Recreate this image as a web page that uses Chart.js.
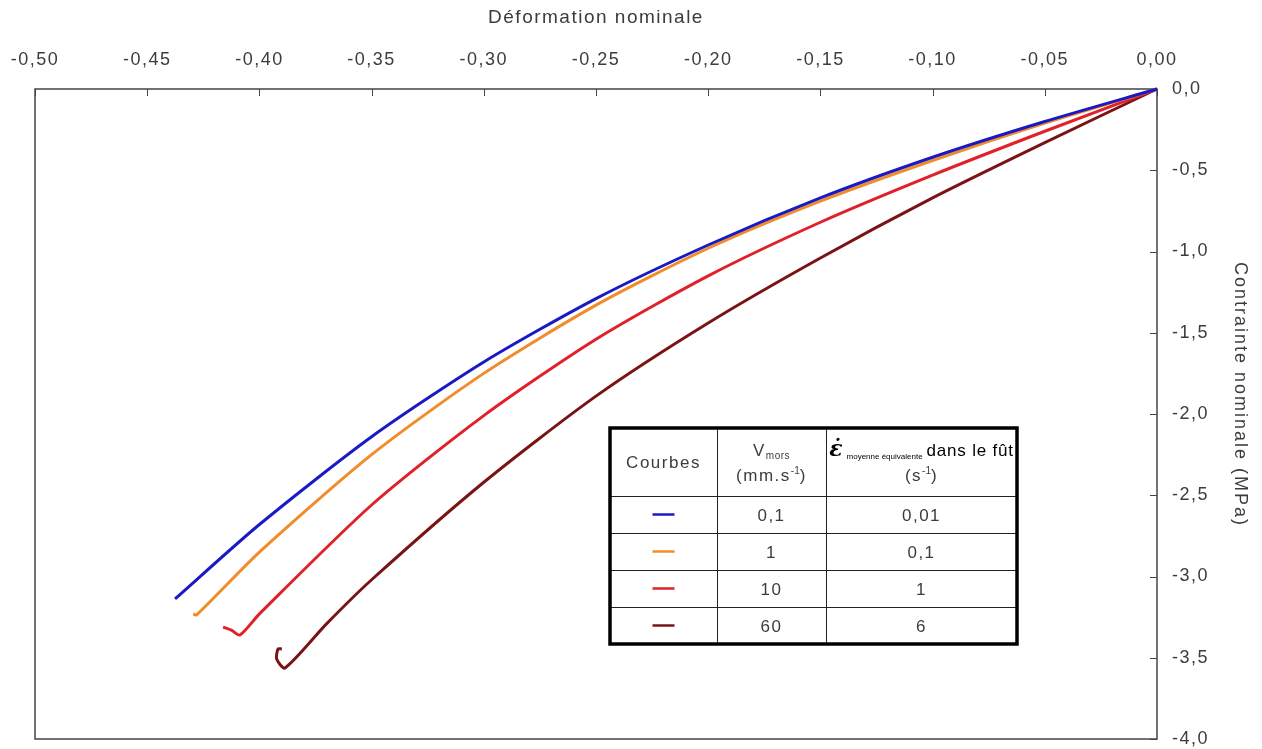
<!DOCTYPE html>
<html lang="fr">
<head>
<meta charset="utf-8">
<title>Contrainte nominale - Déformation nominale</title>
<script src="https://cdn.jsdelivr.net/npm/chart.js@4.4.1/dist/chart.umd.min.js"></script>
<style>
  html, body { margin: 0; padding: 0; background: #fff; }
  #wrap { position: relative; width: 1262px; height: 749px; }
</style>
</head>
<body>
<div id="wrap"><canvas id="chart"></canvas></div>
<script>
// Déformation nominale (x) / Contrainte nominale en MPa (y), une paire par vitesse de mors
const defV01 = [0, -0.05, -0.10, -0.15, -0.20, -0.25, -0.30, -0.35, -0.40, -0.4376];
const contV01 = [0, -0.20, -0.42, -0.67, -0.96, -1.29, -1.68, -2.14, -2.68, -3.138];

const defV1 = [0, -0.05, -0.10, -0.15, -0.20, -0.25, -0.30, -0.35, -0.40, -0.428, -0.4295];
const contV1 = [0, -0.21, -0.44, -0.69, -0.98, -1.33, -1.75, -2.25, -2.85, -3.237, -3.23];

const defV10 = [0, -0.05, -0.10, -0.15, -0.20, -0.25, -0.30, -0.35, -0.40, -0.4087, -0.4125, -0.4162];
const contV10 = [0, -0.26, -0.53, -0.82, -1.15, -1.54, -2.01, -2.56, -3.23, -3.36, -3.33, -3.311];

const defV60 = [0, -0.05, -0.10, -0.15, -0.20, -0.25, -0.30, -0.35, -0.37, -0.3886, -0.3923, -0.3917, -0.39];
const contV60 = [0, -0.33, -0.67, -1.04, -1.44, -1.89, -2.42, -3.02, -3.29, -3.563, -3.508, -3.446, -3.446];

// tableau de légende
const vmors = ['0,1', '1', '10', '60'];
const vitesses = ['0,01', '0,1', '1', '6'];
const couleurs = ['#1a1ac4', '#f08c2a', '#e0202a', '#7a1414'];

const TEXT = '#3c3c3c';
const FONT = '"Liberation Sans", Arial, sans-serif';
const LS = '1.5px';

const toPoints = (xs, ys) => xs.map((x, i) => ({ x, y: ys[i] }));

const serie = (label, xs, ys, color) => ({
  label,
  data: toPoints(xs, ys),
  borderColor: color,
  backgroundColor: color,
  borderWidth: 3,
  pointRadius: 0,
  showLine: true,
  tension: 0.25,
  clip: false,
});

const spacing = {
  id: 'spacing',
  beforeLayout(chart) { chart.ctx.letterSpacing = LS; },
  beforeDraw(chart) { chart.ctx.letterSpacing = LS; },
};

// cadre complet + petites graduations intérieures (façon Excel)
const cadre = {
  id: 'cadre',
  beforeDatasetsDraw(chart) {
    const { ctx, chartArea: { left, top, right, bottom }, scales: { x, y } } = chart;
    ctx.save();
    ctx.strokeStyle = '#444';
    ctx.lineWidth = 1.5;
    ctx.strokeRect(left, top, right - left, bottom - top);
    ctx.lineWidth = 1;
    ctx.beginPath();
    x.ticks.forEach((t) => {
      const px = Math.round(x.getPixelForValue(t.value)) + 0.5;
      ctx.moveTo(px, top);
      ctx.lineTo(px, top + 7);
    });
    y.ticks.forEach((t) => {
      const py = Math.round(y.getPixelForValue(t.value)) + 0.5;
      ctx.moveTo(right, py);
      ctx.lineTo(right - 7, py);
    });
    ctx.stroke();
    ctx.restore();
  },
};

// titre de l'axe vertical, lu de haut en bas
const titreY = {
  id: 'titreY',
  afterDraw(chart) {
    const { ctx, chartArea: { top, bottom } } = chart;
    ctx.save();
    ctx.translate(1240, top + (bottom - top) * 0.47);
    ctx.rotate(Math.PI / 2);
    ctx.font = `18px ${FONT}`;
    ctx.letterSpacing = '2px';
    ctx.fillStyle = TEXT;
    ctx.textAlign = 'center';
    ctx.textBaseline = 'middle';
    ctx.fillText('Contrainte nominale (MPa)', 0, 0);
    ctx.restore();
  },
};

// écrit une suite de morceaux (normal / indice / exposant) centrée sur cx
const runs = (ctx, parts, cx, y) => {
  let w = 0;
  parts.forEach((p) => {
    ctx.font = p.font;
    ctx.letterSpacing = p.ls || LS;
    p.w = ctx.measureText(p.text).width + (p.gap || 0);
    w += p.w;
  });
  let px = cx - w / 2;
  parts.forEach((p) => {
    ctx.font = p.font;
    ctx.letterSpacing = p.ls || LS;
    ctx.fillText(p.text, px, y + (p.dy || 0));
    px += p.w;
  });
};

const tableau = {
  id: 'tableau',
  afterDraw(chart) {
    const { ctx } = chart;
    const x0 = 610, y0 = 428;
    const cols = [107, 109, 191];
    const headH = 68, rowH = 37;
    const w = cols[0] + cols[1] + cols[2];
    const h = headH + rowH * vmors.length;
    const c1 = x0 + cols[0], c2 = c1 + cols[1];
    const mid = [x0 + cols[0] / 2, c1 + cols[1] / 2, c2 + cols[2] / 2];

    ctx.save();
    ctx.fillStyle = '#fff';
    ctx.fillRect(x0, y0, w, h);
    ctx.strokeStyle = '#222';
    ctx.lineWidth = 1;
    ctx.beginPath();
    [c1, c2].forEach((cx) => { ctx.moveTo(cx + 0.5, y0); ctx.lineTo(cx + 0.5, y0 + h); });
    for (let i = 0; i < vmors.length; i++) {
      const ry = Math.round(y0 + headH + rowH * i) + 0.5;
      ctx.moveTo(x0, ry);
      ctx.lineTo(x0 + w, ry);
    }
    ctx.stroke();
    ctx.strokeStyle = '#000';
    ctx.lineWidth = 3.5;
    ctx.strokeRect(x0, y0, w, h);

    ctx.fillStyle = TEXT;
    ctx.textBaseline = 'alphabetic';
    ctx.textAlign = 'left';
    const big = `17px ${FONT}`;
    const small = `10px ${FONT}`;
    const tiny = `8px ${FONT}`;
    runs(ctx, [{ text: 'Courbes', font: big }], mid[0], y0 + 40);
    runs(ctx, [{ text: 'V', font: big }, { text: 'mors', font: small, dy: 3, ls: '0.5px' }], mid[1], y0 + 28);
    runs(ctx, [{ text: '(mm.s', font: big }, { text: '-1', font: small, dy: -7, ls: '0px' }, { text: ')', font: big }], mid[1], y0 + 53);
    ctx.fillStyle = '#000';
    runs(ctx, [
      { text: 'ε̇', font: `bold italic 22px "DejaVu Serif", serif`, ls: '0px', gap: 4 },
      { text: 'moyenne équivalente', font: tiny, dy: 3, ls: '0px', gap: 4 },
      { text: 'dans le fût', font: big, ls: '0.8px' },
    ], mid[2], y0 + 28);
    ctx.fillStyle = TEXT;
    runs(ctx, [{ text: '(s', font: big }, { text: '-1', font: small, dy: -7, ls: '0px' }, { text: ')', font: big }], mid[2], y0 + 53);

    vmors.forEach((v, i) => {
      const cy = y0 + headH + rowH * i + rowH / 2;
      ctx.strokeStyle = couleurs[i];
      ctx.lineWidth = 2.5;
      ctx.beginPath();
      ctx.moveTo(mid[0] - 11, cy);
      ctx.lineTo(mid[0] + 11, cy);
      ctx.stroke();
      ctx.fillStyle = TEXT;
      runs(ctx, [{ text: v, font: big }], mid[1], cy + 6);
      runs(ctx, [{ text: vitesses[i], font: big }], mid[2], cy + 6);
    });
    ctx.restore();
  },
};

new Chart(document.getElementById('chart'), {
  type: 'scatter',
  plugins: [spacing, cadre, titreY, tableau],
  data: {
    datasets: [
      serie('0,1', defV01, contV01, couleurs[0]),
      serie('1', defV1, contV1, couleurs[1]),
      serie('10', defV10, contV10, couleurs[2]),
      serie('60', defV60, contV60, couleurs[3]),
    ],
  },
  options: {
    responsive: true,
    maintainAspectRatio: false,
    animation: false,
    layout: { padding: { left: 35, right: 0, top: 0, bottom: 10 } },
    plugins: {
      legend: { display: false },
      tooltip: { enabled: false },
    },
    scales: {
      x: {
        type: 'linear',
        position: 'top',
        min: -0.5,
        max: 0,
        afterFit(scale) {
          scale.height = 89;
          scale.paddingLeft = 0;
          scale.paddingRight = 0;
        },
        border: { display: false },
        grid: { display: false, drawTicks: false, tickLength: 0 },
        ticks: {
          stepSize: 0.05,
          autoSkip: false,
          maxRotation: 0,
          padding: 18,
          color: TEXT,
          font: { family: FONT, size: 18 },
          callback: (v) => v.toFixed(2).replace('.', ','),
        },
        title: {
          display: true,
          text: 'Déformation nominale',
          color: TEXT,
          padding: { top: 6, bottom: 0 },
          font: { family: FONT, size: 19 },
        },
      },
      y: {
        type: 'linear',
        position: 'right',
        min: -4,
        max: 0,
        afterFit(scale) {
          scale.width = 105;
          scale.paddingTop = 0;
          scale.paddingBottom = 0;
        },
        border: { display: false },
        grid: { display: false, drawTicks: false, tickLength: 0 },
        ticks: {
          stepSize: 0.5,
          padding: 15,
          color: TEXT,
          font: { family: FONT, size: 18 },
          callback: (v) => v.toFixed(1).replace('.', ','),
        },
      },
    },
  },
});
</script>
</body>
</html>
